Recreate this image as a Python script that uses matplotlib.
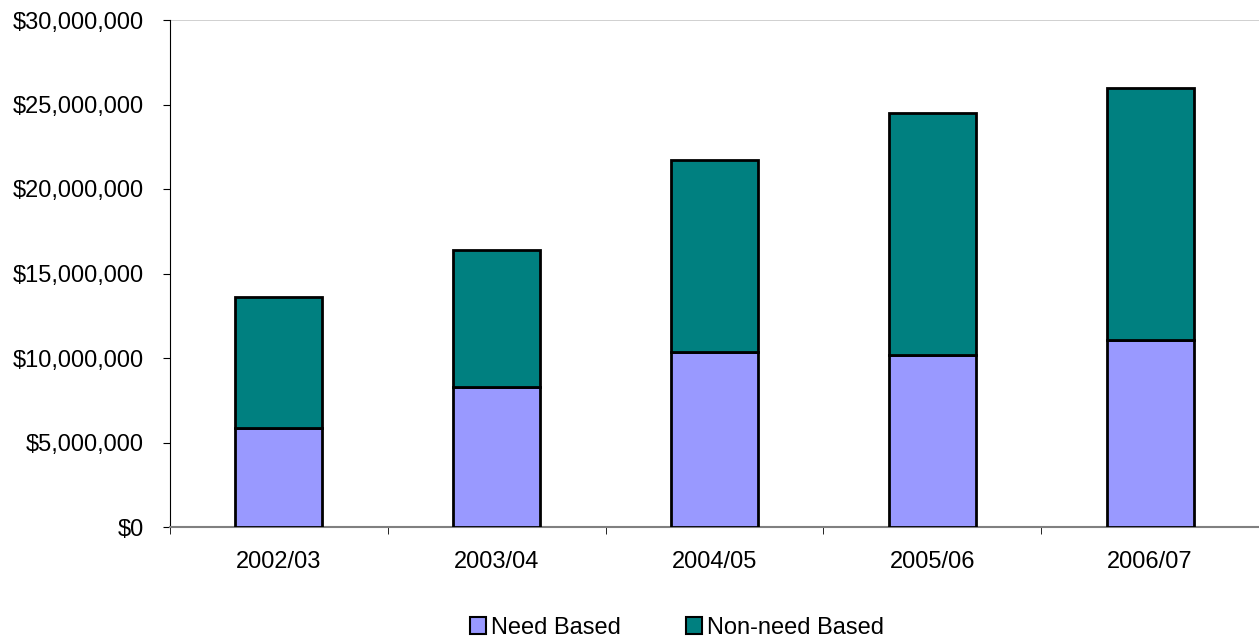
import matplotlib
matplotlib.use("Agg")
import matplotlib.pyplot as plt
import numpy as np
from matplotlib.ticker import FuncFormatter, FixedLocator

categories = ["2002/03", "2003/04", "2004/05", "2005/06", "2006/07"]
need_based = [5.86e6, 8.28e6, 10.36e6, 10.18e6, 11.07e6]
non_need_based = [7.75e6, 8.11e6, 11.36e6, 14.32e6, 14.91e6]
yticks = [0, 5e6, 10e6, 15e6, 20e6, 25e6, 30e6]

plt.rcParams['font.family'] = ['Liberation Sans', 'DejaVu Sans']

fig = plt.figure(figsize=(12.59, 6.39), dpi=100)
ax = fig.add_axes([170/1259, 1-527/639, 1-170/1259, (527-20)/639])

x = np.arange(len(categories))
w = 0.4
ax.bar(x, need_based, w, color="#9999FF", edgecolor="black", linewidth=2, label="Need Based", zorder=3)
ax.bar(x, non_need_based, w, bottom=need_based, color="#008080", edgecolor="black", linewidth=2, label="Non-need Based", zorder=3)

ax.set_xlim(-0.5, len(categories) - 0.5)
ax.set_ylim(0, 30e6)
ax.set_yticks(yticks)
ax.yaxis.set_major_formatter(FuncFormatter(lambda v, p: "${:,.0f}".format(v)))
ax.set_xticks(x)
ax.set_xticklabels(categories)
ax.tick_params(axis='x', which='major', length=0, pad=17, labelsize=17)
ax.xaxis.set_minor_locator(FixedLocator(np.arange(-0.5, len(categories), 1.0)))
ax.tick_params(axis='x', which='minor', length=5, color='black', direction='out')
ax.tick_params(axis='y', length=5, color='black', labelsize=17, pad=14)

ax.axhline(30e6, color="#c8c8c8", linewidth=1.2, zorder=1)
for s in ['top', 'right']:
    ax.spines[s].set_visible(False)
ax.spines['left'].set_color('black')
ax.spines['bottom'].set_color('#808080')
ax.spines['bottom'].set_linewidth(1.5)

leg = fig.legend(loc='center', bbox_to_anchor=(677/1259, 1-628/639), ncol=2, frameon=False,
                 fontsize=17, handlelength=0.7, handleheight=0.7, handletextpad=0.2, columnspacing=2.75)
for h in leg.legend_handles:
    h.set_linewidth(1.5)

fig.savefig("out.png", dpi=100)
